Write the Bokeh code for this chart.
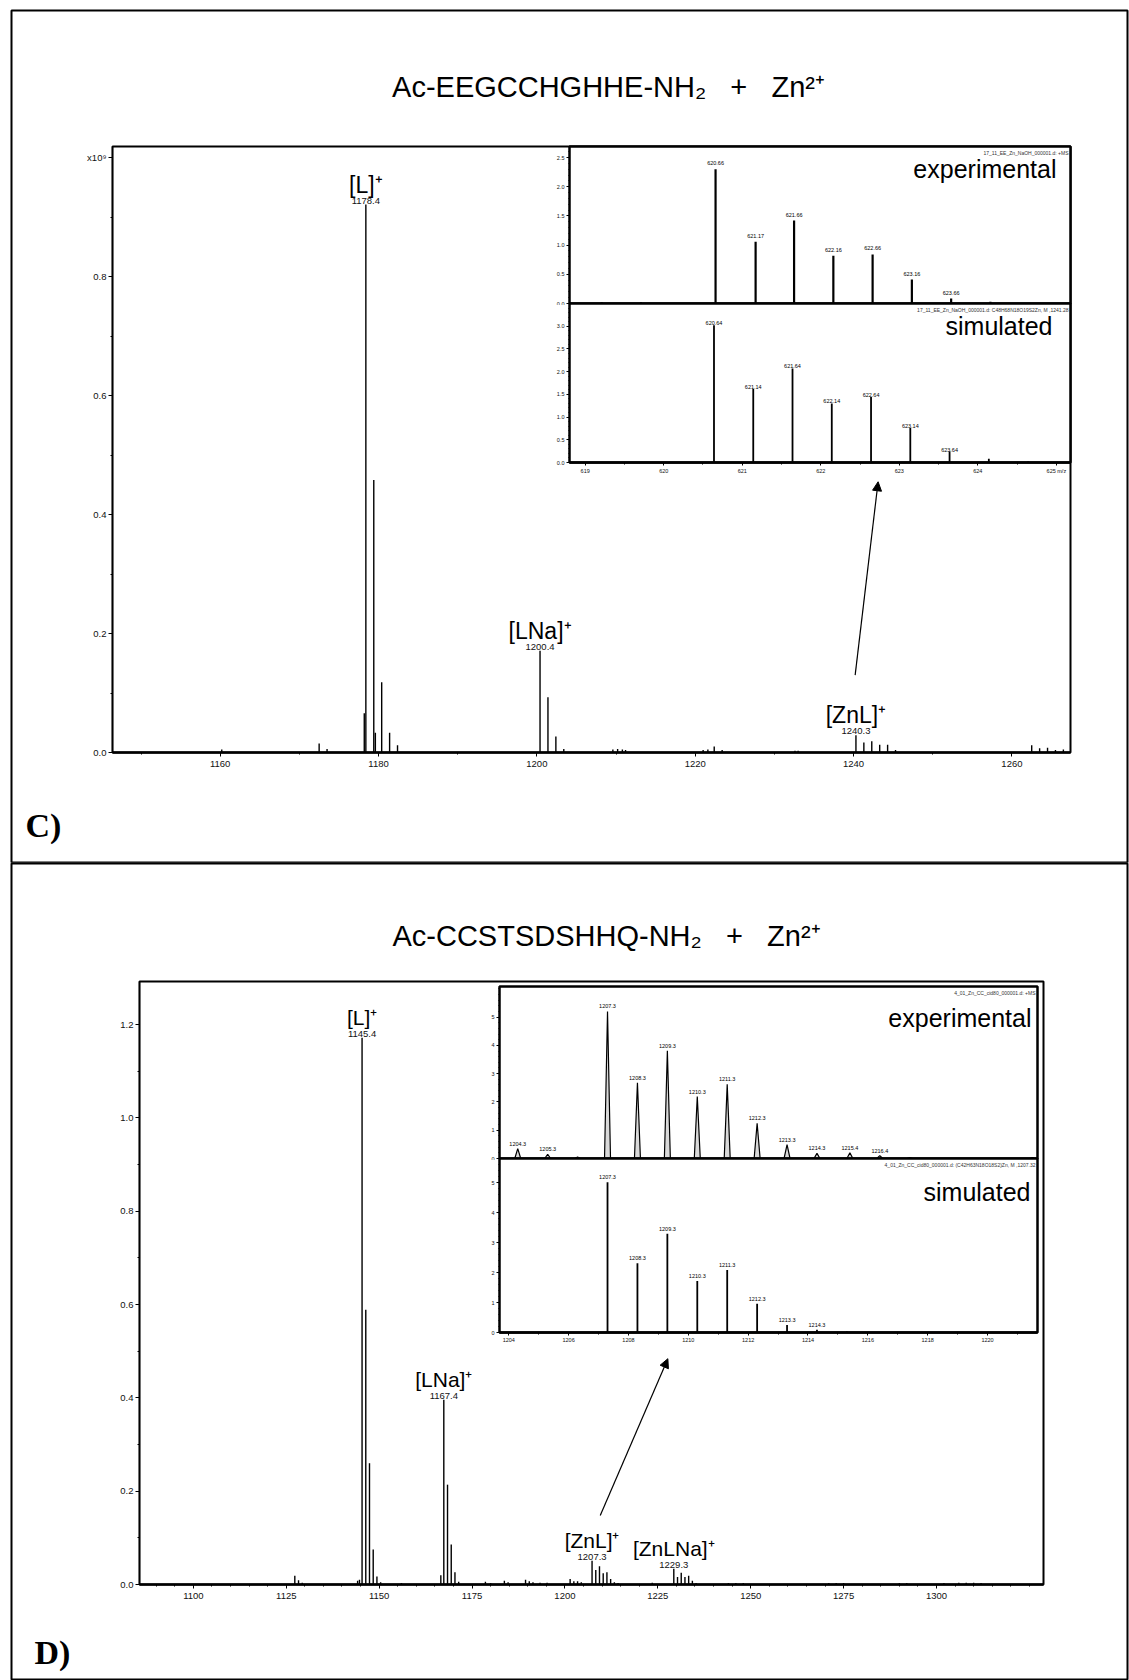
from bokeh.plotting import figure
from bokeh.models import (Range1d, FixedTicker, Label, Arrow, NormalHead, GridBox, Column,
                          PrintfTickFormatter)
from bokeh.core.properties import value
from bokeh.embed import file_html
from bokeh.resources import INLINE

SANS = "Liberation Sans"
SERIF = "Liberation Serif"
NB = "\u00a0"

# ====================== PANEL C data ======================
c_title = "Ac-EEGCCHGHHE-NH₂" + NB * 3 + "+" + NB * 3 + "Zn²⁺"
c_mz = [1160.2, 1172.5, 1173.5, 1178.2, 1178.4, 1179.4, 1179.6, 1180.4, 1181.4, 1182.4,
        1200.4, 1201.4, 1202.4, 1203.4, 1209.6, 1210.2, 1210.8, 1211.2, 1221.0, 1221.6,
        1222.4, 1223.4, 1232.6, 1233.0, 1240.3, 1241.3, 1242.3, 1243.3, 1244.3, 1245.3,
        1262.5, 1263.5, 1264.5, 1265.5, 1266.5]
c_int = [0.005, 0.015, 0.006, 0.066, 0.921, 0.458, 0.033, 0.118, 0.033, 0.012,
         0.171, 0.093, 0.027, 0.006, 0.005, 0.006, 0.005, 0.004, 0.004, 0.005,
         0.010, 0.004, 0.003, 0.003, 0.029, 0.017, 0.019, 0.013, 0.013, 0.004,
         0.012, 0.007, 0.008, 0.004, 0.005]
c_ion_names = ["[L]⁺", "[LNa]⁺", "[ZnL]⁺"]
c_ion_mz = [1178.4, 1200.4, 1240.3]
c_ion_int = [0.921, 0.171, 0.029]
c_ion_text = ["1178.4", "1200.4", "1240.3"]
c_xticks = [1160, 1180, 1200, 1220, 1240, 1260]
c_xminor = [1150, 1170, 1190, 1210, 1230, 1250, 1270]
c_yticks = [0.0, 0.2, 0.4, 0.6, 0.8, 1.0]
c_yminor = [0.1, 0.3, 0.5, 0.7, 0.9]
c_xrange = (1146.4, 1267.4)
c_yrange = (0.0, 1.0185)
c_arrow = (1240.2, 0.13, 1243.1, 0.455)

# inset C (x10^8)
ci_xrange = (618.8, 625.18)
ci_xticks = [619, 620, 621, 622, 623, 624, 625]
ci_xminor = [619.5, 620.5, 621.5, 622.5, 623.5, 624.5]
ce_mz = [619.21, 619.71, 620.22, 620.66, 621.17, 621.66, 622.16, 622.66, 623.16, 623.66, 624.16]
ce_int = [0.02, 0.02, 0.01, 2.30, 1.06, 1.42, 0.82, 0.84, 0.41, 0.085, 0.03]
ce_lab_mz = [620.66, 621.17, 621.66, 622.16, 622.66, 623.16, 623.66]
ce_lab_int = [2.30, 1.06, 1.42, 0.82, 0.84, 0.41, 0.085]
ce_lab = ["620.66", "621.17", "621.66", "622.16", "622.66", "623.16", "623.66"]
ce_yrange = (0.0, 2.69)
ce_yticks = [0.0, 0.5, 1.0, 1.5, 2.0, 2.5]
ce_yminor = [0.1, 0.2, 0.3, 0.4, 0.6, 0.7, 0.8, 0.9, 1.1, 1.2, 1.3, 1.4, 1.6, 1.7, 1.8, 1.9,
             2.1, 2.2, 2.3, 2.4, 2.6]
cs_mz = [620.64, 621.14, 621.64, 622.14, 622.64, 623.14, 623.64, 624.14, 624.64]
cs_int = [3.02, 1.62, 2.07, 1.30, 1.44, 0.76, 0.24, 0.08, 0.02]
cs_lab = ["620.64", "621.14", "621.64", "622.14", "622.64", "623.14", "623.64"]
cs_yrange = (0.0, 3.50)
cs_yticks = [0.0, 0.5, 1.0, 1.5, 2.0, 2.5, 3.0]
cs_yminor = [0.1, 0.2, 0.3, 0.4, 0.6, 0.7, 0.8, 0.9, 1.1, 1.2, 1.3, 1.4, 1.6, 1.7, 1.8, 1.9,
             2.1, 2.2, 2.3, 2.4, 2.6, 2.7, 2.8, 2.9, 3.1, 3.2, 3.3, 3.4]
c_exp_file = "17_11_EE_Zn_NaOH_000001.d: +MS"
c_sim_file = "17_11_EE_Zn_NaOH_000001.d: C48H68N18O19S2Zn, M ,1241.28"

# ====================== PANEL D data ======================
d_title = "Ac-CCSTSDSHHQ-NH₂" + NB * 3 + "+" + NB * 3 + "Zn²⁺"
d_mz = [1127.3, 1128.3, 1129.3, 1144.2, 1144.7, 1145.4, 1146.4, 1147.4, 1148.4, 1149.4,
        1150.4, 1156.0, 1166.6, 1167.4, 1168.4, 1169.4, 1170.4, 1171.4, 1178.6, 1180.0,
        1183.7, 1184.7, 1189.4, 1190.4, 1191.4, 1193.3, 1195.2, 1201.4, 1202.4, 1203.4,
        1204.4, 1207.3, 1208.3, 1209.3, 1210.3, 1211.3, 1212.3, 1213.3, 1214.3, 1223.5,
        1229.3, 1230.3, 1231.3, 1232.3, 1233.3, 1234.3, 1235.3, 1244.0, 1246.0, 1248.0,
        1271.0, 1273.0, 1275.0, 1290.0, 1292.0, 1302.0, 1306.0, 1308.0, 1310.0, 1312.0]
d_int = [0.019, 0.009, 0.004, 0.008, 0.010, 1.172, 0.589, 0.260, 0.075, 0.017,
         0.005, 0.003, 0.020, 0.396, 0.214, 0.086, 0.026, 0.006, 0.006, 0.003,
         0.008, 0.005, 0.010, 0.007, 0.005, 0.004, 0.004, 0.012, 0.007, 0.007,
         0.005, 0.051, 0.031, 0.039, 0.024, 0.026, 0.012, 0.005, 0.003, 0.004,
         0.034, 0.016, 0.025, 0.016, 0.019, 0.008, 0.003, 0.003, 0.003, 0.003,
         0.003, 0.003, 0.003, 0.003, 0.003, 0.003, 0.004, 0.004, 0.004, 0.003]
d_ion_names = ["[L]⁺", "[LNa]⁺", "[ZnL]⁺", "[ZnLNa]⁺"]
d_ion_mz = [1145.4, 1167.4, 1207.3, 1229.3]
d_ion_int = [1.172, 0.396, 0.051, 0.034]
d_ion_text = ["1145.4", "1167.4", "1207.3", "1229.3"]
d_xticks = [1100, 1125, 1150, 1175, 1200, 1225, 1250, 1275, 1300]
d_xminor = [1090, 1095, 1105, 1110, 1115, 1120, 1130, 1135, 1140, 1145, 1155, 1160, 1165, 1170,
            1180, 1185, 1190, 1195, 1205, 1210, 1215, 1220, 1230, 1235, 1240, 1245, 1255, 1260,
            1265, 1270, 1280, 1285, 1290, 1295, 1305, 1310, 1315, 1320, 1325]
d_yticks = [0.0, 0.2, 0.4, 0.6, 0.8, 1.0, 1.2]
d_yminor = [0.1, 0.3, 0.5, 0.7, 0.9, 1.1]
d_xrange = (1085.5, 1328.8)
d_yrange = (0.0, 1.2926)
d_arrow = (1209.5, 0.148, 1227.7, 0.484)

# inset D (x10^8)
di_xrange = (1203.69, 1221.67)
di_xticks = [1204, 1206, 1208, 1210, 1212, 1214, 1216, 1218, 1220]
di_xminor = [1205, 1207, 1209, 1211, 1213, 1215, 1217, 1219, 1221]
de_mz = [1204.3, 1205.3, 1206.3, 1207.3, 1208.3, 1209.3, 1210.3, 1211.3, 1212.3, 1213.3,
         1214.3, 1215.4, 1216.4, 1217.4, 1221.5]
de_int = [0.35, 0.15, 0.05, 5.20, 2.68, 3.81, 2.19, 2.62, 1.24, 0.49, 0.18, 0.20, 0.10, 0.03, 0.03]
de_lab_mz = [1204.3, 1205.3, 1207.3, 1208.3, 1209.3, 1210.3, 1211.3, 1212.3, 1213.3, 1214.3, 1215.4, 1216.4]
de_lab_int = [0.35, 0.15, 5.20, 2.68, 3.81, 2.19, 2.62, 1.24, 0.49, 0.18, 0.20, 0.10]
de_lab = ["1204.3", "1205.3", "1207.3", "1208.3", "1209.3", "1210.3", "1211.3", "1212.3",
          "1213.3", "1214.3", "1215.4", "1216.4"]
de_yrange = (0.0, 6.08)
de_yticks = [0, 1, 2, 3, 4, 5]
de_yminor = [0.2, 0.4, 0.6, 0.8, 1.2, 1.4, 1.6, 1.8, 2.2, 2.4, 2.6, 2.8, 3.2, 3.4, 3.6, 3.8,
             4.2, 4.4, 4.6, 4.8, 5.2, 5.4, 5.6, 5.8, 6.0]
ds_mz = [1207.3, 1208.3, 1209.3, 1210.3, 1211.3, 1212.3, 1213.3, 1214.3, 1215.3]
ds_int = [5.01, 2.31, 3.29, 1.72, 2.08, 0.96, 0.25, 0.09, 0.03]
ds_lab = ["1207.3", "1208.3", "1209.3", "1210.3", "1211.3", "1212.3", "1213.3", "1214.3"]
ds_yrange = (0.0, 5.80)
ds_yticks = [0, 1, 2, 3, 4, 5]
ds_yminor = [0.2, 0.4, 0.6, 0.8, 1.2, 1.4, 1.6, 1.8, 2.2, 2.4, 2.6, 2.8, 3.2, 3.4, 3.6, 3.8,
             4.2, 4.4, 4.6, 4.8, 5.2, 5.4, 5.6]
d_exp_file = "4_01_Zn_CC_cid80_000001.d: +MS"
d_sim_file = "4_01_Zn_CC_cid80_000001.d: (C42H63N18O18S2)Zn, M ,1207.32"


# ====================== helpers ======================
placed = []


def make_fig(xr, yr, fw, fh, bl, br, bt, bb, left, top, x_axis=True, y_axis=True):
    p = figure(width=bl + fw + br, height=bt + fh + bb,
               x_range=Range1d(*xr), y_range=Range1d(*yr),
               output_backend="svg", toolbar_location=None,
               x_axis_location="below" if x_axis else None,
               y_axis_location="left" if y_axis else None,
               min_border_left=bl, min_border_right=br,
               min_border_top=bt, min_border_bottom=bb)
    p.grid.visible = False
    p.border_fill_alpha = 0
    p.outline_line_color = "black"
    placed.append(Column(children=[p], margin=(top, 0, 0, left)))
    return p


def style_axis(ax, fs, tick_out, minor_out, line_w=1.0, standoff=3):
    ax.major_label_text_font = SANS
    ax.major_label_text_font_size = fs
    ax.major_label_text_color = "#111111"
    ax.major_tick_in = 0
    ax.major_tick_out = tick_out
    ax.minor_tick_in = 0
    ax.minor_tick_out = minor_out
    ax.axis_line_width = line_w
    ax.axis_line_color = "black"
    ax.major_tick_line_color = "black"
    ax.minor_tick_line_color = "black"
    ax.major_label_standoff = standoff


def add_label(p, x, y, text, size, xo=0, yo=0, align="left", baseline="alphabetic",
              font=SANS, style="normal", color="black"):
    p.add_layout(Label(x=x, y=y, x_offset=xo, y_offset=yo, text=text,
                       text_font=font, text_font_size=size, text_align=align,
                       text_baseline=baseline, text_font_style=style, text_color=color))


def frame_fig(height, top, bt, bb, title, title_x, title_y, letter, letter_x, letter_y):
    p = make_fig((11, 1127), (top + height - bb, top + bt), 1116, height - bt - bb,
                 11, 2, bt, bb, 0, top, x_axis=False, y_axis=False)
    p.border_fill_alpha = 1
    p.border_fill_color = "white"
    p.outline_line_width = 2
    add_label(p, title_x, title_y, title, "29px", align="center")
    add_label(p, letter_x, letter_y, letter, "34px", font=SERIF, style="bold")
    return p


def main_spectrum(mz, inten, xr, yr, fw, fh, left, top, xticks, xminor, yticks, yminor,
                  ylab_over, ion_mz, ion_int, ion_text, ion_names, ion_size, arrow):
    p = make_fig(xr, yr, fw, fh, 60, 10, 20, 40, left, top)
    p.background_fill_alpha = 0
    p.outline_line_width = 2
    p.segment(x0=mz, y0=[0] * len(mz), x1=mz, y1=inten, line_color="black", line_width=1.4)
    p.xaxis.ticker = FixedTicker(ticks=xticks, minor_ticks=xminor)
    p.yaxis.ticker = FixedTicker(ticks=yticks, minor_ticks=yminor)
    p.yaxis.formatter = PrintfTickFormatter(format="%.1f")
    p.yaxis.major_label_overrides = ylab_over
    style_axis(p.xaxis[0], "9.5px", 4, 2, line_w=2.5, standoff=4)
    style_axis(p.yaxis[0], "9.5px", 4, 2, line_w=1.2, standoff=2)
    p.text(x=ion_mz, y=ion_int, text=ion_text, text_font=value(SANS), text_font_size="9.5px",
           text_align="center", text_baseline="alphabetic", y_offset=-4, text_color="#111111")
    p.text(x=ion_mz, y=ion_int, text=ion_names, text_font=value(SANS), text_font_size=ion_size,
           text_align="center", text_baseline="alphabetic", y_offset=-20)
    add_label(p, xr[1], 0, "m/z", "9.5px", xo=-9, yo=-16, align="center")
    p.add_layout(Arrow(end=NormalHead(size=9, fill_color="black", line_color="black"),
                       x_start=arrow[0], y_start=arrow[1], x_end=arrow[2], y_end=arrow[3],
                       line_color="black", line_width=1.2))
    return p


def inset_panel(xr, yr, fw, fh, left, top, bb, yticks, yminor, yfmt, fs, show_x,
                xticks=None, xminor=None, xover=None):
    p = make_fig(xr, yr, fw, fh, 18, 2, 2, bb, left, top, x_axis=show_x)
    p.background_fill_color = "white"
    p.outline_line_width = 2.5
    p.yaxis.ticker = FixedTicker(ticks=yticks, minor_ticks=yminor)
    if yfmt:
        p.yaxis.formatter = PrintfTickFormatter(format=yfmt)
    style_axis(p.yaxis[0], fs, 3, 1, line_w=1.0, standoff=2)
    if show_x:
        p.xaxis.ticker = FixedTicker(ticks=xticks, minor_ticks=xminor)
        if xover:
            p.xaxis.major_label_overrides = xover
        style_axis(p.xaxis[0], fs, 3, 2, line_w=2.5, standoff=2)
    return p


# ====================== frames + titles ======================
frameC = frame_fig(864, 0, 10, 2, c_title, 608, 86, "C)", 25, 825)
frameD = frame_fig(818, 862, 1, 0, d_title, 606, 935, "D)", 34, 1652)

# ====================== PANEL C ======================
mainC = main_spectrum(c_mz, c_int, c_xrange, c_yrange, 958, 606, 52, 126,
                      c_xticks, c_xminor, c_yticks, c_yminor, {1.0: "x10⁹"},
                      c_ion_mz, c_ion_int, c_ion_text, c_ion_names, "23px", c_arrow)
add_label(mainC, c_xrange[0], 1.0, "Intens.", "8px", xo=-6, yo=8, align="right")

ceC = inset_panel(ci_xrange, ce_yrange, 501, 157, 551, 144, 2, ce_yticks, ce_yminor,
                  "%.1f", "5.5px", False)
ceC.segment(x0=ce_mz, y0=[0] * len(ce_mz), x1=ce_mz, y1=ce_int, line_color="black", line_width=2.2)
ceC.text(x=ce_lab_mz, y=ce_lab_int, text=ce_lab, text_font=value(SANS), text_font_size="5.5px",
         text_align="center", text_baseline="alphabetic", y_offset=-6)
add_label(ceC, ci_xrange[1], ce_yrange[1], "experimental", "25px", xo=-14, yo=-22, align="right")
add_label(ceC, ci_xrange[1], ce_yrange[1], c_exp_file, "5px", xo=-2, yo=-6, align="right",
          color="#333333")
add_label(ceC, ci_xrange[0], ce_yrange[1], "x10⁸", "5.5px", xo=-3, yo=-7, align="right")
add_label(ceC, ci_xrange[0], ce_yrange[1], "Intens.", "5px", xo=-3, yo=0, align="right")

csC = inset_panel(ci_xrange, cs_yrange, 501, 159, 551, 301, 14, cs_yticks, cs_yminor,
                  "%.1f", "5.5px", True, ci_xticks, ci_xminor, {625: "625 m/z"})
csC.segment(x0=cs_mz, y0=[0] * len(cs_mz), x1=cs_mz, y1=cs_int, line_color="black", line_width=1.8)
csC.text(x=cs_mz[:7], y=cs_int[:7], text=cs_lab, text_font=value(SANS), text_font_size="5.5px",
         text_align="center", text_baseline="alphabetic", y_offset=-2)
add_label(csC, ci_xrange[1], cs_yrange[1], "simulated", "25px", xo=-18, yo=-22, align="right")
add_label(csC, ci_xrange[1], cs_yrange[1], c_sim_file, "5px", xo=-2, yo=-6, align="right",
          color="#333333")
add_label(csC, ci_xrange[0], cs_yrange[1], "x10⁸", "5.5px", xo=-3, yo=-5, align="right")

# ====================== PANEL D ======================
mainD = main_spectrum(d_mz, d_int, d_xrange, d_yrange, 904, 603, 79, 961,
                      d_xticks, d_xminor, d_yticks, d_yminor, {},
                      d_ion_mz, d_ion_int, d_ion_text, d_ion_names, "21px", d_arrow)
add_label(mainD, d_xrange[0], d_yrange[1], "Intens.", "8px", xo=-6, yo=-7, align="right")
add_label(mainD, d_xrange[0], d_yrange[1], "x10¹⁰", "9px", xo=-6, yo=-16, align="right")

deD = inset_panel(di_xrange, de_yrange, 538, 172, 481, 984, 2, de_yticks, de_yminor,
                  None, "5.5px", False)
hw = 0.1
deD.patches(xs=[[m - hw, m, m + hw] for m in de_mz], ys=[[0, h, 0] for h in de_int],
            fill_color="black", fill_alpha=0.15, line_color="black", line_width=1.2)
deD.text(x=de_lab_mz, y=de_lab_int, text=de_lab, text_font=value(SANS), text_font_size="5.5px",
         text_align="center", text_baseline="alphabetic", y_offset=-5)
add_label(deD, di_xrange[1], de_yrange[1], "experimental", "25px", xo=-6, yo=-31, align="right")
add_label(deD, di_xrange[1], de_yrange[1], d_exp_file, "5px", xo=-2, yo=-6, align="right",
          color="#333333")
add_label(deD, di_xrange[0], de_yrange[1], "x10⁸", "5.5px", xo=-3, yo=-9, align="right")
add_label(deD, di_xrange[0], de_yrange[1], "Intens.", "5px", xo=-3, yo=-2, align="right")

dsD = inset_panel(di_xrange, ds_yrange, 538, 174, 481, 1156, 14, ds_yticks, ds_yminor,
                  None, "5.5px", True, di_xticks, di_xminor, None)
dsD.segment(x0=ds_mz, y0=[0] * len(ds_mz), x1=ds_mz, y1=ds_int, line_color="black", line_width=1.8)
dsD.text(x=ds_mz[:8], y=ds_int[:8], text=ds_lab, text_font=value(SANS), text_font_size="5.5px",
         text_align="center", text_baseline="alphabetic", y_offset=-5)
add_label(dsD, di_xrange[1], ds_yrange[1], "simulated", "25px", xo=-7, yo=-33, align="right")
add_label(dsD, di_xrange[1], ds_yrange[1], d_sim_file, "5px", xo=-2, yo=-6, align="right",
          color="#333333")
add_label(dsD, di_xrange[0], ds_yrange[1], "x10⁸", "5.5px", xo=-3, yo=-5, align="right")
add_label(dsD, di_xrange[1], 0, "m/z", "5.5px", xo=-6, yo=-9, align="center")

layout = GridBox(children=[(c, 0, 0) for c in placed])

with open("out.html", "w") as fh:
    fh.write(file_html(layout, INLINE))
